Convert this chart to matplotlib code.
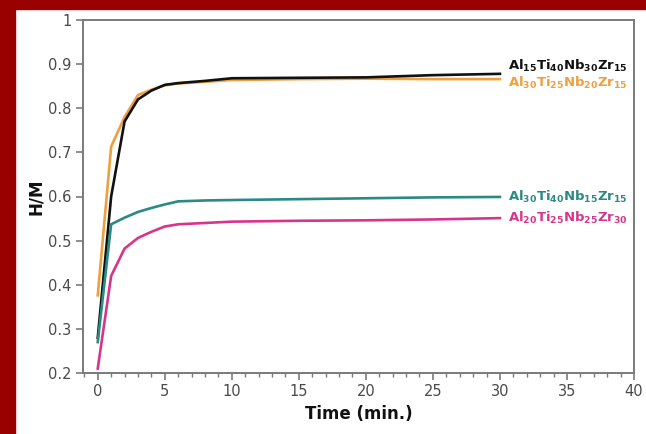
import matplotlib
matplotlib.use("Agg")
import matplotlib.pyplot as plt
from matplotlib.patches import Rectangle
from matplotlib.ticker import MultipleLocator

plt.rcParams['mathtext.fontset'] = 'dejavusans'

# Hydrogen uptake vs time for four alloys
time_min = [0, 1, 2, 3, 4, 5, 6, 8, 10, 15, 20, 25, 30]
h_m_al15 = [0.28, 0.60, 0.77, 0.82, 0.84, 0.853, 0.857, 0.862, 0.868, 0.869, 0.870, 0.875, 0.878]
h_m_al30_25 = [0.376, 0.713, 0.78, 0.83, 0.842, 0.852, 0.856, 0.860, 0.864, 0.866, 0.867, 0.866, 0.866]
h_m_al30_40 = [0.27, 0.537, 0.552, 0.565, 0.574, 0.582, 0.589, 0.591, 0.592, 0.594, 0.596, 0.598, 0.599]
h_m_al20 = [0.21, 0.42, 0.482, 0.506, 0.52, 0.532, 0.537, 0.540, 0.543, 0.545, 0.546, 0.548, 0.551]

labels = [
    r'$\mathbf{Al_{15}Ti_{40}Nb_{30}Zr_{15}}$',
    r'$\mathbf{Al_{30}Ti_{25}Nb_{20}Zr_{15}}$',
    r'$\mathbf{Al_{30}Ti_{40}Nb_{15}Zr_{15}}$',
    r'$\mathbf{Al_{20}Ti_{25}Nb_{25}Zr_{30}}$',
]
label_y = [0.896, 0.857, 0.600, 0.551]
colors = ['#111111', '#ee9f3e', '#2b8a83', '#d8348c']
series = [h_m_al15, h_m_al30_25, h_m_al30_40, h_m_al20]

fig = plt.figure(figsize=(6.46, 4.34), dpi=100)
fig.patch.set_facecolor('white')
# dark red frame along top and left edges
fig.patches.append(Rectangle((0, 1 - 9 / 434), 1, 9 / 434, transform=fig.transFigure,
                             color='#990000', zorder=0))
fig.patches.append(Rectangle((0, 0), 15 / 646, 1, transform=fig.transFigure,
                             color='#990000', zorder=0))

ax = fig.add_axes([83 / 646, 1 - 373 / 434, (634 - 83) / 646, (373 - 20) / 434])

# draw orange first so black sits on top
order = [1, 0, 2, 3]
for i in order:
    ax.plot(time_min, series[i], color=colors[i], lw=1.9, solid_joinstyle='round')

for i in range(4):
    ax.text(30.6, label_y[i], labels[i], color=colors[i], fontsize=9.5,
            va='center', ha='left')

ax.set_xlim(-1.1, 40)
ax.set_ylim(0.2, 1.0)
ax.xaxis.set_major_locator(MultipleLocator(5))
ax.xaxis.set_minor_locator(MultipleLocator(1))
ax.set_yticks([0.2, 0.3, 0.4, 0.5, 0.6, 0.7, 0.8, 0.9, 1.0])
ax.set_yticklabels(['0.2', '0.3', '0.4', '0.5', '0.6', '0.7', '0.8', '0.9', '1'])

for sp in ax.spines.values():
    sp.set_color('#7a7a7a')
    sp.set_linewidth(1.4)

ax.tick_params(which='major', direction='out', length=5, width=1.2, color='#7a7a7a',
               labelsize=10.5, labelcolor='#4a4a4a')
ax.tick_params(which='minor', direction='out', length=3, width=1.0, color='#7a7a7a')
ax.tick_params(axis='x', pad=3)

ax.set_xlabel('Time (min.)', fontsize=12, fontweight='bold', color='#111111', labelpad=4)
ax.set_ylabel('H/M', fontsize=12, fontweight='bold', color='#111111', labelpad=2)

fig.savefig('out.png', dpi=100)
